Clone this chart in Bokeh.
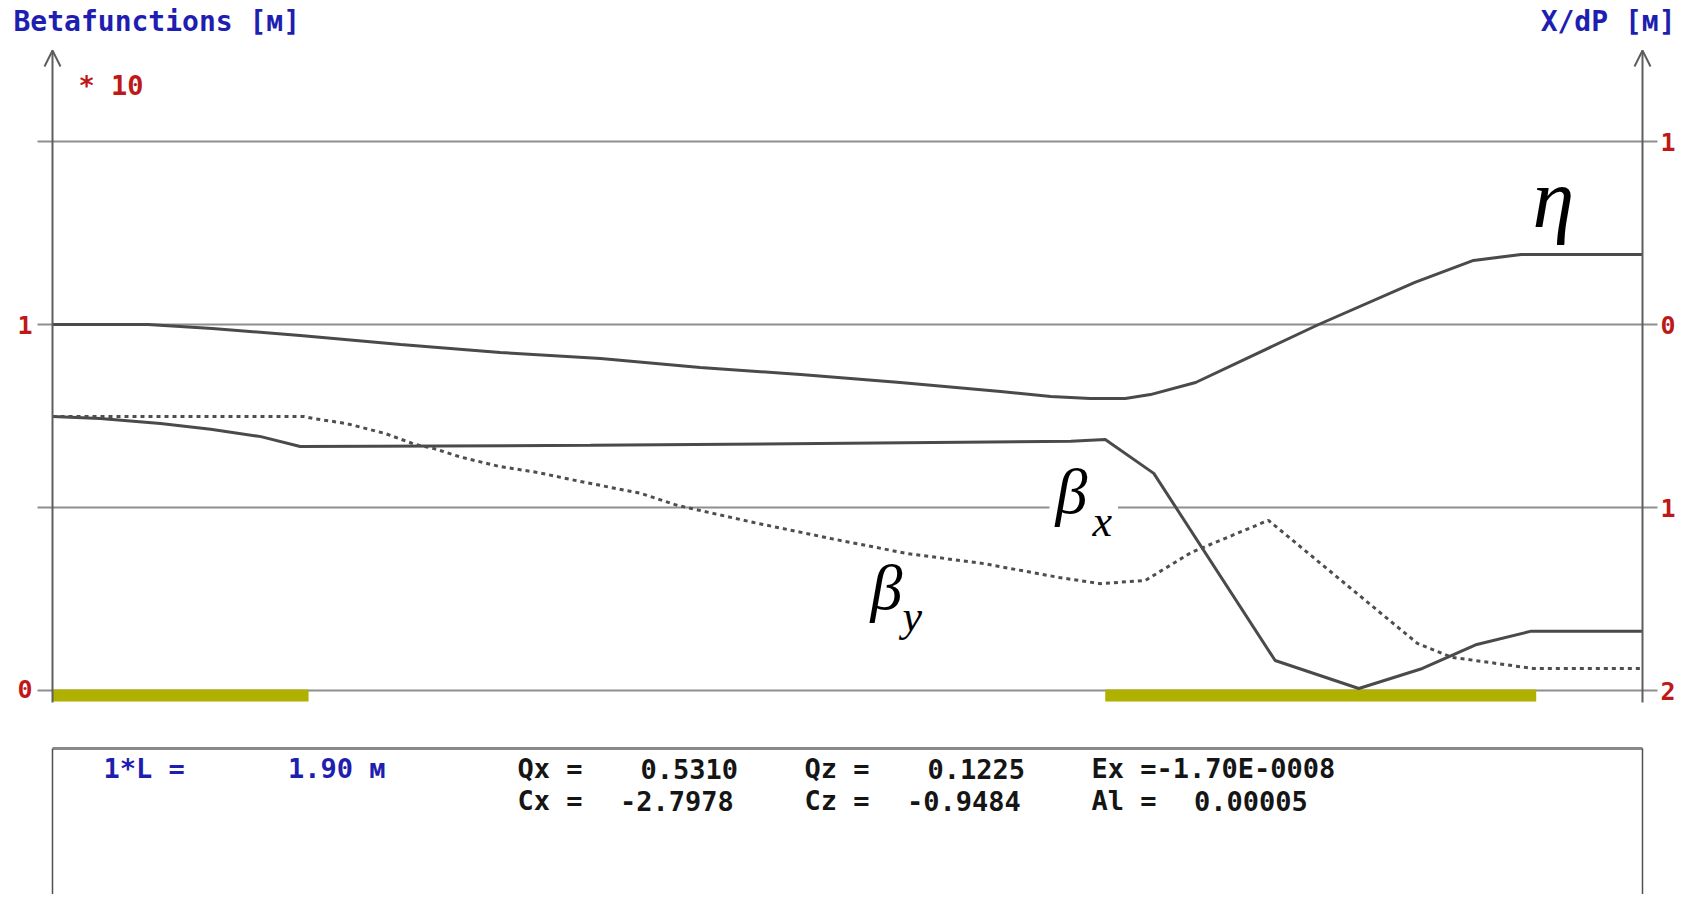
from bokeh.plotting import figure
from bokeh.models import Range1d, LinearAxis, FixedTicker, Label, Arrow, OpenHead
from bokeh.embed import file_html
from bokeh.resources import INLINE

# ---------------- data ----------------
L_TOTAL = 1.90  # m
# dispersion eta (right axis, m)
eta_s = [0.000, 0.114, 0.191, 0.296, 0.416, 0.535, 0.655, 0.774, 0.894, 1.013, 1.133,
         1.193, 1.240, 1.282, 1.312, 1.366, 1.513, 1.628, 1.698, 1.755, 1.900]
eta_v = [0.000, 0.000, -0.022, -0.060, -0.109, -0.153, -0.186, -0.235, -0.273, -0.317, -0.366,
         -0.393, -0.404, -0.404, -0.383, -0.317, 0.000, 0.230, 0.350, 0.383, 0.383]
# beta x (left axis, *10 m)
bx_s = [0.000, 0.057, 0.129, 0.189, 0.249, 0.296, 0.643, 1.217, 1.258, 1.316, 1.461,
        1.561, 1.637, 1.702, 1.766, 1.900]
bx_v = [0.747, 0.742, 0.728, 0.712, 0.692, 0.665, 0.668, 0.679, 0.684, 0.591, 0.077,
        0.000, 0.055, 0.121, 0.157, 0.157]
# beta y (left axis, *10 m)
by_s = [0.000, 0.301, 0.311, 0.351, 0.397, 0.434, 0.456, 0.489, 0.534, 0.581, 0.626,
        0.703, 0.747, 0.838, 0.930, 1.021, 1.113, 1.203, 1.252, 1.306, 1.361, 1.453,
        1.631, 1.673, 1.700, 1.769, 1.900]
by_v = [0.747, 0.747, 0.742, 0.728, 0.701, 0.670, 0.659, 0.635, 0.610, 0.593, 0.571,
        0.536, 0.503, 0.456, 0.412, 0.371, 0.343, 0.305, 0.288, 0.297, 0.374, 0.462,
        0.124, 0.085, 0.077, 0.055, 0.055]
# magnets (element start / end, m)
magnet_start = [0.000, 1.258]
magnet_end = [0.306, 1.773]
# ticks
left_ticks = [0, 1]
grid_ticks = [-2, -1, 0, 1]          # right-axis values of the horizontal lines
right_labels = {-2: "2", -1: "1", 0: "0", 1: "1"}
# info panel text (text, character column)
info_row1 = [("1*L =", 0), ("1.90 м", 9)]
info_row2 = [("Qx =", 0), ("0.5310", 6), ("Qz =", 14), ("0.1225", 20), ("Ex =-1.70E-0008", 28)]
info_row3 = [("Cx =", 0), ("-2.7978", 5), ("Cz =", 14), ("-0.9484", 19), ("Al =", 28), ("0.00005", 33)]

# ---------------- layout helpers (page pixel -> data) ----------------
W, H = 1680, 894
FL, FR = 8, 1678          # frame left / right (px)
PXM = 1590.0 / L_TOTAL
def X(px):
    return (px - 52) / PXM
def Y(py):
    return (688 - py) / 364.0
def E(py):
    return (324 - py) / 183.0

BLUE = "#1e1eb0"
RED = "#c01818"
DARK = "#151515"
AX = "#5e5e5e"
GRID = "#8e8e8e"
CURVE = "#4a4a4a"
MONO = "DejaVu Sans Mono"
SERIF = "Liberation Serif"

p = figure(width=W, height=H, output_backend="svg", toolbar_location=None,
           x_range=Range1d(X(FL), X(FR)), y_range=Range1d(Y(H), Y(0)),
           x_axis_type=None, y_axis_type=None,
           min_border_left=FL, min_border_right=W - FR, min_border_top=0, min_border_bottom=0)
p.outline_line_color = None
p.background_fill_color = "white"
p.border_fill_color = "white"
p.extra_y_ranges = {"eta": Range1d(E(H), E(0))}

def style_axis(ax, standoff):
    ax.axis_line_color = None
    ax.major_tick_line_color = None
    ax.minor_tick_line_color = None
    ax.major_tick_out = 0
    ax.major_tick_in = 0
    ax.major_label_standoff = standoff
    ax.major_label_text_color = RED
    ax.major_label_text_font = MONO
    ax.major_label_text_font_style = "bold"
    ax.major_label_text_font_size = "25px"

la = LinearAxis(ticker=FixedTicker(ticks=left_ticks))
style_axis(la, -(32 - FL))
p.add_layout(la, "left")
ra = LinearAxis(y_range_name="eta", ticker=FixedTicker(ticks=grid_ticks),
                major_label_overrides=right_labels)
style_axis(ra, -(FR - 1660))
p.add_layout(ra, "right")

# horizontal grid lines (extend a little past both axes)
p.segment(x0=[X(37)] * len(grid_ticks), x1=[X(1657)] * len(grid_ticks),
          y0=grid_ticks, y1=grid_ticks, y_range_name="eta",
          line_color=GRID, line_width=2.2)

# magnets
p.quad(left=magnet_start, right=magnet_end, top=Y(689), bottom=Y(701),
       fill_color="#b0b000", line_color=None)

# curves
p.line(eta_s, eta_v, y_range_name="eta", line_color=CURVE, line_width=3)
p.line(bx_s, bx_v, line_color=CURVE, line_width=3)
p.line(by_s, by_v, line_color="#4e4e4e", line_width=3, line_dash="4 4")

# axis lines with arrow heads
for xs in (0.0, L_TOTAL):
    p.add_layout(Arrow(x_start=xs, y_start=Y(702), x_end=xs, y_end=Y(50),
                       line_color=AX, line_width=2,
                       end=OpenHead(size=16, line_color=AX, line_width=2)))

# info panel frame
p.segment(x0=[0.0], y0=[Y(748)], x1=[L_TOTAL], y1=[Y(748)], line_color="#8a8a8a", line_width=3)
p.segment(x0=[0.0, L_TOTAL], y0=[Y(748), Y(748)], x1=[0.0, L_TOTAL], y1=[Y(910), Y(910)],
          line_color="#505050", line_width=1.5)

def mono(txt, x0, idx, py, color, size="27px", align="left"):
    p.add_layout(Label(x=X(x0 + idx * 20.5), y=Y(py), text=txt, text_align=align,
                       text_baseline="middle", text_font=MONO, text_font_style="bold",
                       text_font_size=size, text_color=color))

# titles
mono("Betafunctions [м]", 13, 0, 21, BLUE, size="28px")
mono("X/dP [м]", 1675, 0, 21, BLUE, size="28px", align="right")
mono("* 10", 78, 0, 85, RED, size="27px")

# info rows
for txt, idx in info_row1:
    mono(txt, 103, idx, 768, BLUE)
for txt, idx in info_row2:
    mono(txt, 517, idx, 768, DARK)
for txt, idx in info_row3:
    mono(txt, 517, idx, 800, DARK)

# greek curve labels
def greek(txt, px, py, size, bg=None):
    lab = Label(x=X(px), y=Y(py), text=txt, text_align="left", text_baseline="alphabetic",
                text_font=SERIF, text_font_style="italic", text_font_size=size,
                text_color="black")
    if bg:
        lab.background_fill_color = bg
        lab.padding = 6
    p.add_layout(lab)

greek("η", 1532, 198, "84px")
greek("β", 1049, 491, "64px", bg="white")
greek("x", 1086, 521, "44px", bg="white")
greek("β", 870, 587, "64px")
greek("y", 902, 616, "44px")

open("out.html", "w").write(file_html(p, INLINE))
